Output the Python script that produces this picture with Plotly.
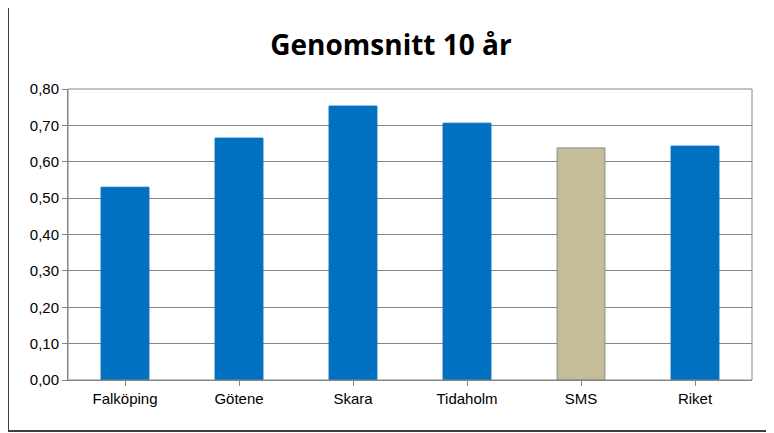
import plotly.graph_objects as go

categories = ["Falköping", "Götene", "Skara", "Tidaholm", "SMS", "Riket"]
values = [0.53, 0.665, 0.753, 0.706, 0.638, 0.643]
colors = ["#0070C0", "#0070C0", "#0070C0", "#0070C0", "#C4BD97", "#0070C0"]
line_colors = ["#0070C0", "#0070C0", "#0070C0", "#0070C0", "#8C8C8C", "#0070C0"]
tickvals = [0, 0.1, 0.2, 0.3, 0.4, 0.5, 0.6, 0.7, 0.8]
ticktext = ["0,00", "0,10", "0,20", "0,30", "0,40", "0,50", "0,60", "0,70", "0,80"]

fig = go.Figure(go.Bar(x=categories, y=values, marker=dict(color=colors, line=dict(color=line_colors, width=1)), width=0.42))
fig.update_layout(
    width=766, height=425,
    margin=dict(l=60, r=22, t=81, b=53),
    paper_bgcolor="white", plot_bgcolor="white",
    font=dict(family="Liberation Sans, Arial", size=15, color="black"),
    title=dict(text="<b>Genomsnitt 10 år</b>", x=0.5, xanchor="center", y=1 - 37/425, yanchor="middle",
               font=dict(size=28, family="Open Sans, Liberation Sans")),
    showlegend=False,
    xaxis=dict(showline=True, linecolor="#868686", ticks="outside", ticklen=5, tickcolor="#868686", showgrid=False),
    yaxis=dict(range=[0, 0.8], tickvals=tickvals, ticktext=ticktext, showgrid=True, gridcolor="#868686",
               showline=True, linecolor="#868686", ticks="outside", ticklen=5, tickcolor="#868686", zeroline=False),
    shapes=[
        dict(type="rect", xref="paper", yref="paper", x0=0, x1=1, y0=0, y1=1, line=dict(color="#868686", width=1)),
        dict(type="rect", xref="paper", yref="paper", x0=-60/684, x1=1 + 20/684, y0=-51/291, y1=1 + 90/291,
             line=dict(color="#404040", width=2)),
    ],
)
fig.write_html("out.html")
